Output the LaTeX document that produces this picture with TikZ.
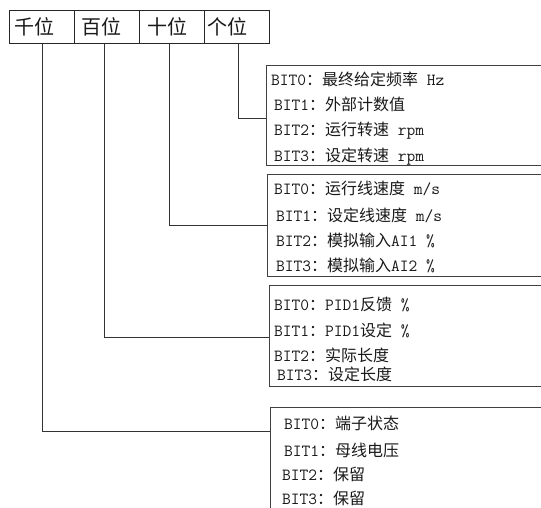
\documentclass[tikz,border=0pt]{standalone}
\usepackage{fontspec}
\setmainfont{Latin Modern Mono}
\newfontfamily\cjk{Noto Sans CJK SC}
\newcommand\zh[1]{{\cjk\fontsize{16}{16}\selectfont #1}}
\begin{document}
\begin{tikzpicture}[x=1pt,y=-1pt,
  cell/.style={draw=black!85, line width=0.9pt, minimum width=65pt, minimum height=33pt, anchor=north west, inner sep=0pt},
  celltext/.style={anchor=west, inner sep=0pt, text=black!90, font=\cjk\fontsize{20}{20}\selectfont},
  bitbox/.style={draw=black!75, line width=0.9pt, anchor=north west, minimum width=320pt, inner sep=0pt},
  bittext/.style={anchor=west, inner sep=0pt, text=black!90, font=\fontsize{17}{17}\selectfont},
  conn/.style={draw=black!80, line width=0.9pt}]
\useasboundingbox (0,0) rectangle (541,507);
\clip (0,0) rectangle (541,507);
% header cells
\node[cell] (h1) at (9,10) {};
\node[cell] (h2) at (73.5,10) {};
\node[cell] (h3) at (138.5,10) {};
\node[cell] (h4) at (203.5,10) {};
\node[celltext] (t1) at (14,26.5) {千位};
\node[celltext] (t2) at (81,26.5) {百位};
\node[celltext] (t3) at (147,26.5) {十位};
\node[celltext] (t4) at (207,26.5) {个位};
% boxes
\node[bitbox, minimum height=100pt] (b1) at (266,65) {};
\node[bitbox, minimum height=102pt] (b2) at (267,174) {};
\node[bitbox, minimum height=101pt] (b3) at (269,285) {};
\node[bitbox, minimum height=130pt] (b4) at (270,407) {};
% connector coordinates
\coordinate (x1) at (42,0);
\coordinate (x2) at (104,0);
\coordinate (x3) at (169,0);
\coordinate (x4) at (238,0);
\coordinate (y1) at (0,118);
\coordinate (y2) at (0,225);
\coordinate (y3) at (0,337);
\coordinate (y4) at (0,431);
\draw[conn] (h4.south -| x4) |- (b1.west |- y1);
\draw[conn] (h3.south -| x3) |- (b2.west |- y2);
\draw[conn] (h2.south -| x2) |- (b3.west |- y3);
\draw[conn] (h1.south -| x1) |- (b4.west |- y4);
% box 1
\node[bittext] (l10) at (271,79) {BIT0\zh{：最终给定频率} Hz};
\node[bittext] (l11) at (274,104) {BIT1\zh{：外部计数值}};
\node[bittext] (l12) at (274,131) {BIT2\zh{：运行转速} rpm};
\node[bittext] (l13) at (274,157) {BIT3\zh{：设定转速} rpm};
% box 2
\node[bittext] (l20) at (274,188) {BIT0\zh{：运行线速度} m/s};
\node[bittext] (l21) at (276,215) {BIT1\zh{：设定线速度} m/s};
\node[bittext] (l22) at (276,240) {BIT2\zh{：模拟输入}AI1 \%};
\node[bittext] (l23) at (276,265) {BIT3\zh{：模拟输入}AI2 \%};
% box 3
\node[bittext] (l30) at (274,304) {BIT0\zh{：}PID1\zh{反馈} \%};
\node[bittext] (l31) at (274,330) {BIT1\zh{：}PID1\zh{设定} \%};
\node[bittext] (l32) at (274,355) {BIT2\zh{：实际长度}};
\node[bittext] (l33) at (277,374) {BIT3\zh{：设定长度}};
% box 4
\node[bittext] (l40) at (284,423) {BIT0\zh{：端子状态}};
\node[bittext] (l41) at (284,450) {BIT1\zh{：母线电压}};
\node[bittext] (l42) at (282,474) {BIT2\zh{：保留}};
\node[bittext] (l43) at (282,498) {BIT3\zh{：保留}};
\end{tikzpicture}
\end{document}
